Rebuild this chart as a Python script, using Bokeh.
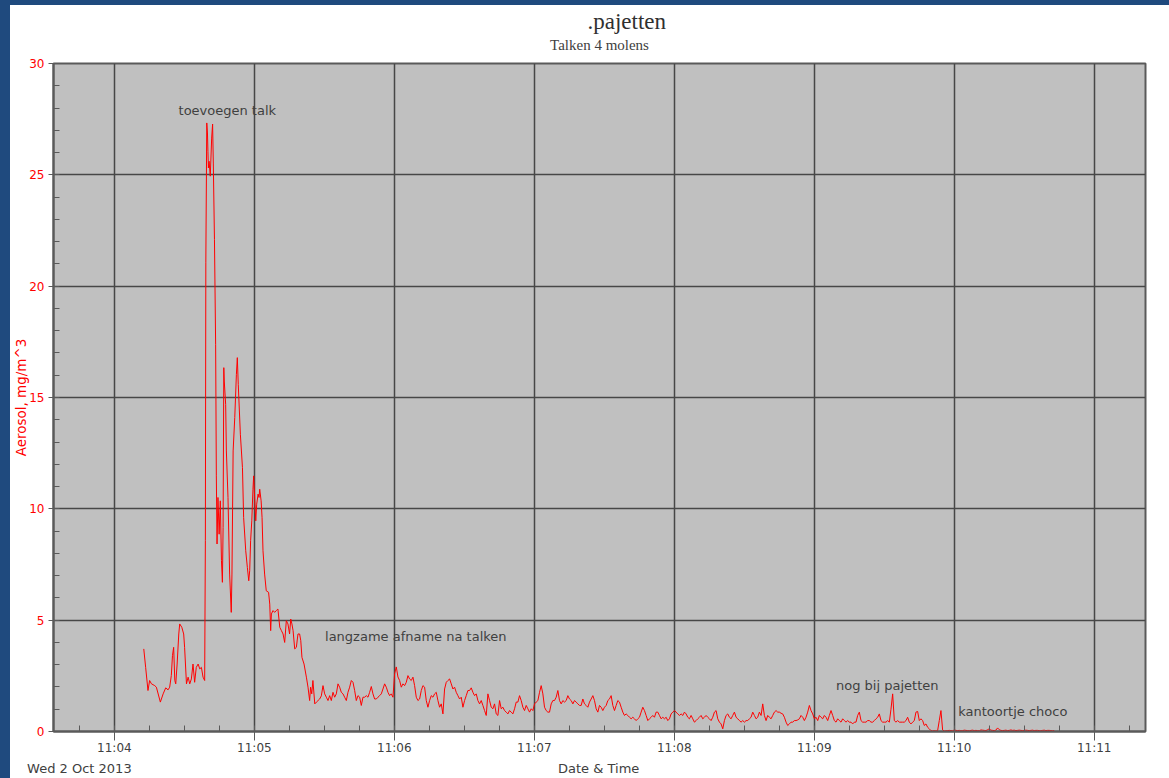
from datetime import datetime
from bokeh.plotting import figure
from bokeh.layouts import row, column
from bokeh.models import (Range1d, FixedTicker, SingleIntervalTicker, DatetimeTickFormatter,
                          Title, LinearAxis, ColumnDataSource, Spacer)
from bokeh.core.properties import value
from bokeh.embed import file_html
from bokeh.resources import INLINE

# ---------------- data ----------------
# seconds after 11:04:00 on Wed 2 Oct 2013
day_label = "Wed 2 Oct 2013"
x_title = "Date & Time"
y_title = "Aerosol, mg/m^3"
main_title = ".pajetten"
sub_title = "Talken 4 molens"
base_time = datetime(2013, 10, 2, 11, 4, 0)

early_t = [12.6, 13.4, 14.4, 15.1, 15.9, 17.3, 18.0, 19.7, 20.9, 22.0, 23.0, 23.7, 24.4, 24.9,
           25.4, 25.9, 26.3, 26.9, 27.6, 28.0, 28.9, 29.7, 30.1, 30.9, 31.6, 32.3, 33.0, 33.7,
           34.4, 35.1, 35.9, 36.6, 37.3, 38.0, 38.7,
           39.0, 39.2, 39.6, 39.9, 40.1, 40.3, 40.6, 41.1, 41.7, 42.1, 42.4, 42.9, 43.4, 43.7,
           44.0, 44.4, 44.9, 45.4, 45.9, 46.3, 46.6, 46.9, 47.1, 47.7, 48.0, 48.7, 49.4, 50.1,
           50.4, 50.9, 51.6, 52.3, 52.7, 53.1, 54.0, 54.9, 55.4, 56.3, 57.0, 57.6, 58.0, 58.4,
           58.9, 59.4, 59.7, 60.2, 60.6, 61.0, 61.6, 62.0, 62.3, 62.9, 63.3, 63.7, 64.4, 65.1,
           66.1, 66.6, 67.0, 67.3, 68.0, 68.7, 69.4, 70.1, 70.9, 71.6, 72.3, 73.0, 73.7, 74.4,
           75.1, 75.6, 76.1, 76.6, 77.3, 78.0, 78.7, 79.4, 79.9, 80.4, 81.3, 82.3, 83.0, 83.7,
           84.1, 84.6, 85.1, 85.9, 86.6, 87.3, 88.0]
early_v = [3.71, 2.88, 1.84, 2.29, 2.14, 2.06, 1.99, 1.32, 1.69, 1.96, 1.87, 1.99, 2.51, 3.41,
           3.78, 2.29, 2.14, 3.03, 4.38, 4.83, 4.68, 4.38, 3.78, 2.14, 2.44, 2.14, 2.36, 3.03,
           2.21, 2.88, 3.03, 2.81, 2.88, 2.44, 2.29,
           8.57, 21.05, 27.33, 26.88, 26.06, 25.31, 25.61, 24.94, 26.65, 27.28, 25.53, 22.09, 17.39, 11.48,
           8.42, 10.51, 8.86, 10.36, 7.67, 6.70, 9.16, 16.34, 15.74, 14.69, 12.60, 10.51, 7.07, 5.35,
           7.07, 12.60, 14.10, 16.04, 16.79, 15.59, 13.35, 11.85, 9.61, 8.12, 7.37, 6.77, 7.22, 8.57,
           9.46, 10.88, 11.48, 10.36, 9.46, 10.21, 10.66, 10.51, 10.88, 10.36, 9.61, 8.12, 7.07, 6.32,
           6.25, 5.72, 4.53, 5.28, 5.43, 5.35, 5.43, 5.50, 4.68, 4.53, 4.38, 4.00, 4.98, 4.83,
           4.38, 5.05, 4.83, 4.53, 3.71, 3.78, 4.38, 4.38, 4.08, 3.33, 3.03, 2.44, 1.99, 1.39,
           1.99, 1.69, 2.29, 1.24, 1.32, 1.39, 1.46]

# later readings, logged every 0.714 s starting at 88.71 s
late_start = 88.71
late_step = 0.714
late_v = [1.60,
    2.06, 1.69, 1.54, 1.39, 1.61, 1.39, 1.76, 1.54, 1.69, 2.14, 1.99, 1.76, 1.69, 1.54, 1.39, 1.76,
    1.99, 2.29, 2.21, 1.84, 1.39, 1.61, 1.54, 1.17, 1.54, 1.54, 1.61, 1.54, 1.76, 2.02, 1.69, 1.46,
    1.46, 1.54, 1.61, 1.69, 1.91, 2.14, 1.99, 1.76, 1.61, 1.69, 1.54, 2.60, 2.90, 2.45, 2.29, 1.99,
    2.14, 2.06, 2.21, 2.51, 2.36, 2.29, 2.44, 2.06, 1.54, 1.39, 1.46, 1.84, 2.06, 1.99, 1.39, 1.09,
    1.39, 1.61, 1.54, 1.69, 1.76, 1.39, 1.09, 1.24, 0.79, 1.91, 2.21, 2.29, 2.36, 2.14, 1.91, 1.99,
    1.76, 1.61, 1.46, 1.54, 1.09, 1.39, 1.61, 1.84, 1.84, 1.96, 1.76, 1.61, 1.69, 1.39, 1.24, 1.39,
    1.17, 0.94, 0.72, 1.69, 1.39, 1.09, 1.02, 1.24, 0.79, 0.72, 1.39, 1.02, 1.09, 0.94, 0.87, 0.79,
    0.94, 0.87, 0.79, 1.02, 1.32, 1.32, 1.61, 1.39, 1.09, 0.94, 1.17, 1.02, 0.87, 1.02, 0.94, 1.24,
    1.32, 1.39, 1.76, 2.06, 1.69, 1.09, 0.94, 0.87, 0.87, 1.24, 1.39, 1.39, 1.54, 1.84, 1.39, 1.24,
    1.39, 1.32, 1.39, 1.61, 1.46, 1.39, 1.24, 1.39, 1.32, 1.24, 1.17,
    1.17, 1.46, 1.24, 1.17, 1.09, 1.32, 1.46, 1.61, 1.39, 1.02, 0.87, 1.17, 1.09, 0.94, 1.09, 1.17,
    1.39, 1.46, 1.61, 1.17, 0.94, 1.17, 1.39, 1.32, 1.09, 0.87, 0.72, 0.79, 0.72, 0.64, 0.57, 0.64,
    0.57, 0.49, 0.57, 0.64, 0.87, 1.09, 0.94, 0.72, 0.49, 0.57, 0.64, 0.72, 0.64, 0.87, 0.87, 0.72,
    0.57, 0.64, 0.57, 0.64, 0.49, 0.57, 0.79, 0.87, 0.94, 0.87, 0.79, 0.72, 0.79, 0.72, 0.87, 0.79,
    0.64, 0.57, 0.72, 0.57, 0.42, 0.49, 0.57, 0.64, 0.72, 0.57, 0.64, 0.72, 0.64, 0.57, 0.49, 0.64,
    0.87, 0.94, 0.57, 0.42, 0.34, 0.12, 0.49, 0.72, 0.79, 0.64, 0.57, 0.72, 0.87, 0.64, 0.57, 0.49,
    0.42, 0.49, 0.42, 0.49, 0.49, 0.57, 0.64, 0.87, 0.72, 0.57, 0.64, 0.87, 0.72, 1.24, 0.72, 0.49,
    0.72, 0.64, 0.57, 0.72, 0.87, 0.94, 0.87, 0.87, 0.82, 0.79, 0.64, 0.42, 0.27, 0.34, 0.42, 0.42,
    0.49, 0.49, 0.52, 0.57, 0.72, 0.64, 0.49, 0.64, 0.87, 1.17, 0.94, 0.79, 0.57, 0.64, 0.49, 0.72,
    0.64, 0.57, 0.72, 0.64, 0.49, 0.72, 0.94, 0.72, 0.49, 0.42, 0.57, 0.49, 0.42, 0.57, 0.49, 0.42,
    0.49, 0.42, 0.42, 0.34, 0.42, 0.42, 0.72, 0.87,
    0.49, 0.42, 0.42, 0.42, 0.49, 0.49, 0.42, 0.42, 0.49, 0.57, 0.64, 0.79, 0.49, 0.42, 0.42, 0.42,
    0.49, 0.42, 1.00, 1.69, 0.49, 0.42, 0.49, 0.42, 0.42, 0.42, 0.42, 0.49, 0.64, 0.42, 0.34, 0.42,
    0.49, 0.87, 0.90, 0.49, 0.57, 0.49, 0.27, 0.34, 0.19, 0.12, 0.04, 0.02, 0.04, 0.02, 0.04, 0.49,
    0.94, 0.07, 0.02, 0.03, 0.04, 0.05, 0.04, 0.03, 0.07, 0.05, 0.04, 0.05, 0.03, 0.04, 0.06, 0.05,
    0.04, 0.03, 0.05, 0.06, 0.04, 0.05, 0.04, 0.03, 0.07, 0.06, 0.05, 0.04, 0.08, 0.12, 0.06, 0.05,
    0.04, 0.06, 0.16, 0.08, 0.05, 0.04, 0.05, 0.06, 0.04, 0.05, 0.07, 0.05, 0.06, 0.04, 0.05, 0.06,
    0.05, 0.04, 0.05, 0.06, 0.05, 0.04, 0.05, 0.06, 0.04, 0.05, 0.05, 0.04, 0.03, 0.05, 0.06, 0.04,
    0.05, 0.05, 0.04, 0.03, 0.04]

note_texts = ["toevoegen talk", "langzame afname na talken", "nog bij pajetten", "kantoortje choco"]
note_t = [48.4, 129.2, 331.3, 385.1]
note_v = [27.9, 4.26, 2.06, 0.90]

x_start_s, x_end_s = -26.1, 442.0     # 11:03:33.9 .. 11:11:22
major_minutes = list(range(0, 8))     # 11:04 .. 11:11
minor_step_s = 15
day_label_s = -15.0                   # the date is written under the first minor tick
x_title_s = 207.6

# ---------------- build ----------------
epoch = datetime(1970, 1, 1)
base_ms = (base_time - epoch).total_seconds() * 1000.0

def to_ms(s):
    return base_ms + s * 1000.0

times = list(early_t) + [late_start + i * late_step for i in range(len(late_v))]
vals = list(early_v) + list(late_v)
src = ColumnDataSource(dict(x=[to_ms(t) for t in times], y=vals))

FONT = "DejaVu Sans"
SERIF = "Liberation Serif"
GRID = "#474747"
AX = "#5a5a5a"
TXT = "#404040"
BLUE = "#1f4a7e"

p = figure(width=1159, height=773, x_axis_type="datetime",
           x_range=Range1d(to_ms(x_start_s), to_ms(x_end_s)), y_range=Range1d(0, 30),
           output_backend="svg", toolbar_location=None, title=None,
           min_border_left=42, min_border_right=24, min_border_top=58, min_border_bottom=47,
           background_fill_color="#c0c0c0", border_fill_color="white",
           outline_line_color=AX, outline_line_width=2)

xax = p.xaxis[0]
yax = p.yaxis[0]

# time axis
xt = FixedTicker(ticks=[to_ms(60 * m) for m in major_minutes],
                 minor_ticks=[to_ms(minor_step_s * k) for k in range(-2, 31)])
xax.ticker = xt
p.xgrid.ticker = xt
fmt = "%H:%M"
xax.formatter = DatetimeTickFormatter(seconds=fmt, minsec=fmt, minutes=fmt,
                                      hourmin=fmt, hours=fmt)
xax.major_label_text_font = FONT
xax.major_label_text_font_size = "12px"
xax.major_label_text_color = TXT
xax.major_label_standoff = 0
xax.major_tick_out = 9
xax.major_tick_in = 0
xax.minor_tick_in = 6
xax.minor_tick_out = 0
xax.axis_line_color = AX
xax.major_tick_line_color = AX
xax.minor_tick_line_color = AX
xax.axis_line_width = 2

# y axis
yt = SingleIntervalTicker(interval=5, num_minor_ticks=5)
yax.ticker = yt
p.ygrid.ticker = yt
yax.axis_label = y_title
yax.axis_label_text_font = FONT
yax.axis_label_text_font_size = "13.5px"
yax.axis_label_text_font_style = "normal"
yax.axis_label_text_color = "#ff0000"
yax.axis_label_standoff = -3
yax.major_label_text_font = FONT
yax.major_label_text_font_size = "12px"
yax.major_label_text_color = "#ff0000"
yax.major_label_standoff = 4
yax.major_tick_out = 5
yax.major_tick_in = 0
yax.minor_tick_in = 6
yax.minor_tick_out = 0
yax.axis_line_color = AX
yax.major_tick_line_color = AX
yax.minor_tick_line_color = AX
yax.axis_line_width = 2

for g in (p.xgrid, p.ygrid):
    g.grid_line_color = GRID
    g.grid_line_width = 1.5

# subtitle (an empty axis above, carrying only its label)
sub_axis = LinearAxis(ticker=FixedTicker(ticks=[]), axis_label=sub_title,
                      axis_label_text_font=SERIF, axis_label_text_font_size="15px",
                      axis_label_text_font_style="normal", axis_label_text_color=TXT,
                      axis_label_standoff=11, axis_line_color=None,
                      major_tick_line_color=None, minor_tick_line_color=None,
                      major_tick_out=0, major_tick_in=0, minor_tick_out=0, minor_tick_in=0,
                      major_label_standoff=0)
p.add_layout(sub_axis, "above")
p.add_layout(Title(text=main_title, align="left", offset=534, standoff=0,
                   text_font=SERIF, text_font_size="23px",
                   text_font_style="normal", text_color="#303030"), "above")

# second row under the time axis: date and axis title
t_day = to_ms(day_label_s)
t_xt = to_ms(x_title_s)
info_axis = LinearAxis(ticker=FixedTicker(ticks=[t_day, t_xt]),
                       major_label_overrides={t_day: day_label, t_xt: x_title},
                       major_label_text_font=FONT, major_label_text_font_size="13px",
                       major_label_text_color=TXT, major_label_standoff=3,
                       axis_line_color=None, major_tick_line_color=None,
                       minor_tick_line_color=None, major_tick_out=0, major_tick_in=0,
                       minor_tick_out=0, minor_tick_in=0)
p.add_layout(info_axis, "below")

# data line
p.line(x="x", y="y", source=src, line_color="#ff0000", line_width=1)

# notes
nsrc = ColumnDataSource(dict(x=[to_ms(t) for t in note_t], y=note_v, text=note_texts))
p.text(x="x", y="y", text="text", source=nsrc, text_font=value(FONT),
       text_font_size=value("13px"), text_color=TXT, text_align="center",
       text_baseline="middle")

# window frame (blue strips at left and top)
left_bar = Spacer(width=10, height=778, styles={"background-color": BLUE})
top_bar = Spacer(width=1159, height=5, styles={"background-color": BLUE})
page = row(left_bar, column(top_bar, p, spacing=0), spacing=0)

open("out.html", "w").write(file_html(page, INLINE))
